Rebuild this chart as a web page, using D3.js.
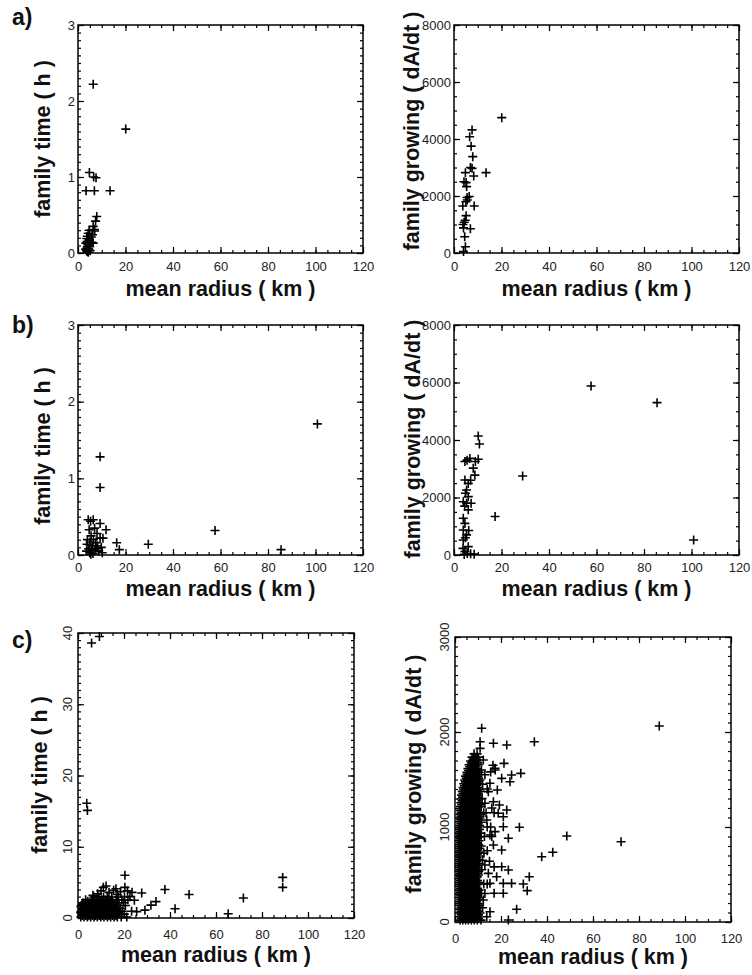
<!DOCTYPE html>
<html>
<head>
<meta charset="utf-8">
<script src="https://cdn.jsdelivr.net/npm/d3@7"></script>
<style>
  body { margin: 0; background: #ffffff; }
  svg { display: block; }
</style>
</head>
<body>
<script>

// ------------------ data (mean radius km, value) ---------------------------
var radiusTicks = [0, 20, 40, 60, 80, 100, 120];
var timeTicksAB = [0, 1, 2, 3];
var growTicksAB = [0, 2000, 4000, 6000, 8000];
var timeTicksC  = [0, 10, 20, 30, 40];
var growTicksC  = [0, 1000, 2000, 3000];

// a) family time
var aRadiusTime = [[6.4,2.22],[20.1,1.63],[4.8,1.06],[6.6,1.00],[7.6,0.99],[3.4,0.82],[6.9,0.82],[13.5,0.82],
  [7.9,0.48],[7.4,0.42],[6.4,0.35],[6.9,0.31],[7.0,0.29],[4.7,0.30],[4.3,0.26],[6.1,0.24],[3.9,0.22],[5.6,0.21],
  [3.7,0.19],[4.6,0.17],[6.4,0.13],[5.8,0.14],[3.3,0.13],[4.1,0.11],[3.9,0.08],[4.9,0.09],[3.7,0.06],[4.8,0.04],
  [4.4,0.06],[3.6,0.03],[5.1,0.03],[3.9,0.02],[4.3,0.01],[3.2,0.05],[4.8,0.13],[3.8,0.15]];

// a) family growing
var aRadiusGrow = [[20.1,4750],[7.6,4320],[6.6,4080],[7.2,3750],[7.9,3380],[7.6,2970],[6.9,3000],[8.3,2700],
  [13.5,2820],[4.8,2820],[5.1,2470],[5.3,2330],[4.2,2500],[6.4,1980],[5.6,1860],[5.0,1800],[8.5,1650],[3.7,1650],
  [5.1,1310],[4.3,1080],[4.7,1150],[6.9,850],[4.0,880],[3.8,1000],[4.5,570],[4.8,220],[4.0,50],[5.5,1950]];

// b) family time
var bRadiusTime = [[100.8,1.71],[9.3,1.28],[9.3,0.88],[57.7,0.32],[29.6,0.14],[85.5,0.07],[16.3,0.16],[17.4,0.07],
  [4.3,0.46],[6.4,0.46],[5.3,0.44],[9.3,0.41],[11.8,0.33],[4.7,0.33],[7.0,0.35],[8.0,0.28],[9.3,0.22],[10.5,0.22],
  [5.5,0.25],[4.0,0.20],[6.5,0.20],[7.5,0.16],[3.8,0.14],[5.0,0.13],[6.0,0.12],[8.2,0.12],[9.8,0.10],[4.5,0.08],
  [5.8,0.07],[7.2,0.06],[8.7,0.05],[10.2,0.03],[4.9,0.03],[6.3,0.02],[5.4,0.01],[3.6,0.05],[7.8,0.09],[5.1,0.17]];

// b) family growing
var bRadiusGrow = [[57.7,5880],[85.5,5300],[100.9,520],[28.9,2750],[17.3,1340],
  [10.2,4140],[10.7,3860],[4.6,3250],[6.7,3360],[10.2,3330],[5.5,3300],[9.0,3250],[8.1,3020],[8.8,2780],
  [4.6,2610],[6.0,2490],[7.0,2600],[5.3,2260],[6.0,2030],[4.8,2150],[3.9,1850],[5.3,1800],[7.2,1800],[6.0,1570],
  [4.5,1700],[3.9,1280],[4.6,1100],[3.9,870],[5.3,700],[6.2,850],[3.9,520],[4.8,600],[6.0,290],[4.6,120],
  [3.8,230],[5.6,50],[7.0,40],[8.5,30],[4.3,20]];

// c) family time : isolated points
var cTimeSparse = [[5.9,38.6],[9.3,39.5],[3.8,16.1],[4.1,15.1],[20.4,6.0],[89.0,5.7],[89.0,4.3],[71.9,2.8],
  [48.3,3.3],[37.8,4.0],[42.2,1.3],[65.3,0.6],[27.7,3.5],[33.9,2.3],[31.7,1.8],[29.1,1.1],[25.5,0.9],[12.2,4.5],
  [11.0,4.3],[20.4,4.3],[22.6,3.0],[8.5,3.4],[10.0,3.8],[13.5,3.6],[15.5,3.9],[17.0,3.3],[18.5,3.7],[21.5,3.8],
  [23.5,3.6],[16.5,4.1],[6.5,3.2],[24.5,2.5]];

// c) family time : dense cluster, rows of [time, radius, radius, ...]
var cTimeDenseRows = [
  [0.15, 1.2, 2.6, 4.1, 5.5, 7.0, 8.4, 9.9, 11.3, 12.8, 14.2, 15.7, 17.1, 18.8, 21.2],
  [0.55, 1.9, 3.3, 4.8, 6.2, 7.7, 9.1, 10.6, 12.0, 13.5, 14.9, 16.4, 17.9, 20.1],
  [0.95, 1.3, 2.7, 4.2, 5.6, 7.1, 8.5, 10.0, 11.4, 12.9, 14.3, 15.8, 17.4, 19.3, 23.3],
  [1.35, 2.0, 3.4, 4.9, 6.3, 7.8, 9.2, 10.7, 12.1, 13.6, 15.0, 16.6, 18.4],
  [1.75, 1.4, 2.8, 4.3, 5.7, 7.2, 8.6, 10.1, 11.5, 13.0, 14.4, 16.0, 17.8, 20.6],
  [2.15, 2.2, 3.7, 5.1, 6.6, 8.0, 9.5, 10.9, 12.4, 13.8, 15.4, 17.2, 19.8],
  [2.55, 3.3, 5.8, 7.4, 8.9, 10.3, 11.8, 13.2, 14.8, 16.6, 19.1, 21.7],
  [2.95, 6.9, 9.1, 11.1, 12.7, 14.6, 17.6, 20.2]];

// c) family time : second layer of the same cluster
var cTimeDenseRowsB = [
  [0.35, 1.9, 3.4, 4.8, 6.3, 7.7, 9.2, 10.6, 12.1, 13.5, 15.0, 16.5],
  [0.75, 1.2, 2.6, 4.0, 5.5, 6.9, 8.4, 9.8, 11.3, 12.7, 14.2, 15.6, 17.0],
  [1.15, 2.0, 3.5, 4.9, 6.4, 7.8, 9.3, 10.7, 12.2, 13.6, 15.1, 16.4],
  [1.55, 1.3, 2.7, 4.1, 5.6, 7.0, 8.5, 9.9, 11.4, 12.8, 14.3, 15.7],
  [1.95, 2.0, 3.5, 4.9, 6.4, 7.8, 9.3, 10.7, 12.2, 13.6, 15.0],
  [2.35, 4.3, 6.5, 8.1, 9.6, 11.1, 12.6, 14.1]];

// c) family growing : isolated points
var cGrowSparse = [[88.8,2063],[72.2,845],[48.6,905],[42.5,734],[37.7,687],[28.0,997],[34.5,1898],[32.3,477],
  [31.4,330],[29.7,400],[26.8,134],[11.6,2039],[10.9,1898],[16.7,1881],[22.5,1863],[10.9,1828],[12.3,1705],
  [17.4,1618],[21.3,1670],[24.6,1547],[28.6,1565],[20.3,1512],[23.9,1477],[15.2,1460],[18.4,1389],[14.5,1372],
  [16.7,1266],[19.3,1232],[22.5,1179],[21.0,1108],[18.8,1144],[13.8,1074],[21.0,1003],[17.4,951],[23.2,881],
  [15.2,916],[20.3,758],[16.7,811],[12.6,723],[20.3,582],[23.2,547],[14.5,512],[18.1,477],[15.2,407],[21.0,407],
  [24.6,407],[17.0,302],[21.0,302],[12.3,232],[15.2,108],[13.8,56],[23.2,21],
  [11.5,1600],[12.0,1450],[11.8,1300],[12.5,1150],[11.5,1050],[12.8,900],[11.4,800],[12.0,650],[11.6,550],
  [12.5,400],[11.3,300],[12.0,150],[13.0,1250],[13.5,1150],[14.0,1000],[13.0,600],[14.0,400],[13.0,300],
  [14.0,1400],[16.0,1200],[15.5,1000],[17.0,1150],[16.0,900],[14.0,750],[15.0,640],[17.0,580],[13.0,1550],
  [15.5,1580],[17.5,1600],[16.5,1650]];

// c) family growing : dense cluster, rows of [growing, radius, radius, ...]
var cGrowDenseRows = [
  [1770, 8.3, 9.6],
  [1735, 7.4, 8.9, 10.2],
  [1695, 6.8, 8.1, 9.5],
  [1655, 6.1, 7.5, 8.8, 10.1],
  [1615, 5.6, 7.0, 8.4, 9.7],
  [1575, 5.2, 6.5, 7.9, 9.3, 10.5],
  [1535, 4.6, 6.0, 7.4, 8.7, 10.0],
  [1495, 4.2, 5.6, 6.9, 8.3, 9.6, 10.8],
  [1455, 3.8, 5.1, 6.5, 7.8, 9.2, 10.4],
  [1415, 3.5, 4.8, 6.2, 7.5, 8.9, 10.1],
  [1375, 3.2, 4.4, 5.8, 7.1, 8.5, 9.8, 11.0],
  [1335, 2.9, 4.2, 5.5, 6.9, 8.2, 9.6],
  [1295, 2.7, 3.9, 5.2, 6.6, 7.9, 9.3, 10.6],
  [1255, 2.5, 3.7, 5.0, 6.3, 7.7, 9.0, 10.3],
  [1215, 2.4, 3.5, 4.8, 6.1, 7.4, 8.8, 10.1, 11.4],
  [1175, 2.3, 3.4, 4.6, 5.9, 7.2, 8.5, 9.8],
  [1135, 2.2, 3.3, 4.5, 5.8, 7.1, 8.4, 9.7, 11.0],
  [1095, 2.1, 3.2, 4.4, 5.7, 7.0, 8.3, 9.6, 10.8],
  [1055, 2.0, 3.1, 4.3, 5.6, 6.9, 8.2, 9.5],
  [1015, 2.0, 3.0, 4.2, 5.5, 6.8, 8.1, 9.4, 10.7],
  [975, 1.9, 3.0, 4.2, 5.4, 6.7, 8.0, 9.3, 10.6],
  [935, 1.9, 2.9, 4.1, 5.4, 6.7, 8.0, 9.3, 11.2],
  [895, 1.9, 2.9, 4.1, 5.3, 6.6, 7.9, 9.2, 10.5],
  [855, 1.8, 2.8, 4.0, 5.3, 6.6, 7.9, 9.2, 10.4],
  [815, 1.8, 2.8, 4.0, 5.2, 6.5, 7.8, 9.1, 10.3],
  [775, 1.8, 2.8, 4.0, 5.2, 6.5, 7.8, 9.1, 10.6],
  [735, 1.8, 2.7, 3.9, 5.2, 6.5, 7.8, 9.0, 10.2],
  [695, 1.8, 2.7, 3.9, 5.1, 6.4, 7.7, 9.0, 10.4],
  [655, 1.8, 2.7, 3.9, 5.1, 6.4, 7.7, 8.9, 10.1],
  [615, 1.8, 2.8, 4.0, 5.2, 6.4, 7.7, 8.9, 10.5],
  [575, 1.8, 2.8, 4.0, 5.2, 6.5, 7.7, 8.9, 10.0],
  [535, 1.8, 2.8, 4.0, 5.2, 6.5, 7.8, 9.0, 10.3],
  [495, 1.9, 2.9, 4.1, 5.3, 6.5, 7.8, 9.0, 10.2],
  [455, 1.9, 2.9, 4.1, 5.3, 6.6, 7.8, 9.1],
  [415, 1.9, 2.9, 4.1, 5.3, 6.6, 7.9, 9.1, 10.4],
  [375, 1.9, 3.0, 4.2, 5.4, 6.6, 7.9, 9.2],
  [335, 1.9, 3.0, 4.2, 5.4, 6.7, 7.9, 9.2, 10.5],
  [295, 2.0, 3.0, 4.2, 5.4, 6.7, 8.0, 9.3],
  [255, 2.0, 3.1, 4.3, 5.5, 6.7, 8.0, 9.3, 10.6],
  [215, 2.0, 3.1, 4.3, 5.5, 6.8, 8.1, 9.4],
  [175, 2.0, 3.1, 4.3, 5.5, 6.8, 8.1, 9.4, 10.7],
  [135, 2.0, 3.2, 4.4, 5.6, 6.9, 8.2, 9.5],
  [95, 2.1, 3.2, 4.4, 5.6, 6.9, 8.2, 9.5, 10.9],
  [55, 2.1, 3.3, 4.5, 5.7, 7.0, 8.3, 9.6],
  [20, 2.2, 3.4, 4.6, 5.8, 7.1, 8.4, 9.7, 11.3]];

// c) family growing : second layer of the same cluster (between the rows above)
var cGrowDenseRowsB = [
  [1715, 7.9, 9.3],
  [1675, 7.1, 8.5, 9.9],
  [1635, 6.4, 7.8, 9.1],
  [1595, 5.9, 7.3, 8.7, 10.0],
  [1555, 5.3, 6.7, 8.1, 9.5],
  [1515, 4.9, 6.3, 7.7, 9.0, 10.3],
  [1475, 4.5, 5.8, 7.2, 8.5, 9.9],
  [1435, 4.1, 5.4, 6.8, 8.1, 9.5],
  [1395, 3.8, 5.1, 6.5, 7.8, 9.2, 10.5],
  [1355, 3.5, 4.8, 6.1, 7.5, 8.8, 10.2],
  [1315, 3.3, 4.5, 5.9, 7.2, 8.6, 9.9],
  [1275, 3.1, 4.3, 5.6, 7.0, 8.3, 9.7],
  [1235, 2.9, 4.1, 5.4, 6.7, 8.1, 9.4, 10.7],
  [1195, 2.8, 4.0, 5.2, 6.5, 7.9, 9.1],
  [1155, 2.7, 3.9, 5.1, 6.4, 7.7, 9.0, 10.4],
  [1115, 2.6, 3.8, 5.0, 6.3, 7.6, 8.9, 10.2],
  [1075, 2.5, 3.7, 4.9, 6.2, 7.5, 8.8, 10.1],
  [1035, 2.5, 3.6, 4.8, 6.1, 7.4, 8.7, 10.0],
  [995, 2.4, 3.6, 4.8, 6.0, 7.3, 8.6, 9.9],
  [955, 2.4, 3.5, 4.7, 6.0, 7.3, 8.6, 9.9],
  [915, 2.3, 3.5, 4.7, 5.9, 7.2, 8.5, 9.8],
  [875, 2.3, 3.4, 4.6, 5.9, 7.2, 8.5, 9.8],
  [835, 2.3, 3.4, 4.6, 5.8, 7.1, 8.4, 9.7],
  [795, 2.3, 3.4, 4.6, 5.8, 7.1, 8.4, 9.7],
  [755, 2.2, 3.3, 4.5, 5.8, 7.1, 8.4, 9.6],
  [715, 2.2, 3.3, 4.5, 5.7, 7.0, 8.3, 9.6],
  [675, 2.2, 3.3, 4.5, 5.7, 7.0, 8.3, 9.5],
  [635, 2.2, 3.3, 4.5, 5.8, 7.0, 8.3, 9.5],
  [595, 2.2, 3.4, 4.6, 5.8, 7.1, 8.3, 9.5],
  [555, 2.2, 3.4, 4.6, 5.8, 7.1, 8.4, 9.6],
  [515, 2.3, 3.5, 4.7, 5.9, 7.1, 8.4, 9.6],
  [475, 2.3, 3.5, 4.7, 5.9, 7.2, 8.4, 9.7],
  [435, 2.3, 3.5, 4.7, 5.9, 7.2, 8.5, 9.8],
  [395, 2.4, 3.6, 4.8, 6.0, 7.2, 8.5, 9.8],
  [355, 2.4, 3.6, 4.8, 6.0, 7.3, 8.5, 9.8],
  [315, 2.4, 3.6, 4.8, 6.0, 7.3, 8.6, 9.9],
  [275, 2.5, 3.7, 4.9, 6.1, 7.3, 8.6, 9.9],
  [235, 2.5, 3.7, 4.9, 6.1, 7.4, 8.7, 10.0],
  [195, 2.5, 3.7, 4.9, 6.1, 7.4, 8.7, 10.0],
  [155, 2.6, 3.8, 5.0, 6.2, 7.5, 8.8, 10.1],
  [115, 2.6, 3.8, 5.0, 6.2, 7.5, 8.8, 10.1],
  [75, 2.7, 3.9, 5.1, 6.3, 7.6, 8.9, 10.2],
  [38, 2.7, 3.9, 5.1, 6.4, 7.6, 8.9, 10.3]];

// rows -> [radius, value] pairs
function unrow(rows) {
  return d3.merge(rows.map(r => r.slice(1).map(x => [x, r[0]])));
}

var tickFont = '"Liberation Sans", Arial, sans-serif';
var titleFont = '"Liberation Sans", Arial, sans-serif';

var svg = d3.select('body').append('svg').attr('width', 752).attr('height', 975);

//------------------ panel drawing ---------------------------------------------
function drawPanel(p) {

  var x = d3.scaleLinear().domain([0, 120]).range([p.left, p.right]);
  var y = d3.scaleLinear().domain([0, p.yTicks[p.yTicks.length - 1]]).range([p.bottom, p.top]);
  var g = svg.append('g');
  var fmt = d3.format('d');

  var minorX = d3.range(0, 121, 5);
  var minorY = d3.range(0, y.domain()[1] + p.yMinor / 2, p.yMinor);

  // minor ticks on four sides
  g.append('g').attr('transform', `translate(0,${p.bottom})`).call(d3.axisBottom(x).tickValues(minorX).tickSize(-3).tickFormat(''));
  g.append('g').attr('transform', `translate(0,${p.top})`).call(d3.axisTop(x).tickValues(minorX).tickSize(-3).tickFormat(''));
  g.append('g').attr('transform', `translate(${p.left},0)`).call(d3.axisLeft(y).tickValues(minorY).tickSize(-3).tickFormat(''));
  g.append('g').attr('transform', `translate(${p.right},0)`).call(d3.axisRight(y).tickValues(minorY).tickSize(-3).tickFormat(''));

  // major ticks
  g.append('g').attr('transform', `translate(0,${p.bottom})`)
   .call(d3.axisBottom(x).tickValues(radiusTicks).tickSize(-6).tickPadding(p.xPad).tickFormat(fmt));
  g.append('g').attr('transform', `translate(0,${p.top})`).call(d3.axisTop(x).tickValues(radiusTicks).tickSize(-6).tickFormat(''));
  var yl = g.append('g').attr('transform', `translate(${p.left},0)`)
            .call(d3.axisLeft(y).tickValues(p.yTicks).tickSize(-6).tickPadding(3).tickFormat(fmt));
  g.append('g').attr('transform', `translate(${p.right},0)`).call(d3.axisRight(y).tickValues(p.yTicks).tickSize(-6).tickFormat(''));

  g.selectAll('.domain').remove();
  g.selectAll('.tick line').attr('stroke', '#000').attr('stroke-width', 1.2);
  g.selectAll('.tick text').attr('fill', '#222').attr('font-size', 13).attr('font-family', tickFont);

  // rotated y labels for panel c
  if (p.rotY) {
    yl.selectAll('.tick text').remove();
    g.selectAll('.ylab').data(p.yTicks).enter().append('text')
     .attr('transform', d => `translate(${p.left - 6},${y(d)}) rotate(-90)`)
     .attr('text-anchor', 'middle').attr('fill', '#222')
     .attr('font-size', 13).attr('font-family', tickFont)
     .text(d => fmt(d));
  }

  // frame
  g.append('rect').attr('x', p.left).attr('y', p.top)
   .attr('width', p.right - p.left).attr('height', p.bottom - p.top)
   .attr('fill', 'none').attr('stroke', '#000').attr('stroke-width', 1.5);

  // crosses
  g.selectAll('.pt').data(p.data).enter().append('path')
   .attr('d', 'M-4.5,0H4.5M0,-4.5V4.5')
   .attr('transform', d => `translate(${x(d[0])},${y(d[1])})`)
   .attr('stroke', '#000').attr('stroke-width', 1.6).attr('fill', 'none');

  // axis titles
  g.append('text').attr('x', (p.left + p.right) / 2).attr('y', p.xTitleY)
   .attr('text-anchor', 'middle').attr('font-family', titleFont).attr('font-weight', 'bold')
   .attr('font-size', 21.5).attr('fill', '#111').text('mean radius ( km )');

  g.append('text').attr('transform', `translate(${p.yTitleX},${p.yTitleMid}) rotate(-90)`)
   .attr('text-anchor', 'middle').attr('font-family', titleFont).attr('font-weight', 'bold')
   .attr('font-size', 21.5).attr('fill', '#111').text(p.yTitle);

  if (p.tag) {
    svg.append('text').attr('x', 12).attr('y', p.tagY)
       .attr('font-family', titleFont).attr('font-weight', 'bold').attr('font-size', 23)
       .attr('fill', '#111').text(p.tag);
  }
}

//------------------ a) ---------------------------------------------
drawPanel({left: 78, right: 363, top: 25, bottom: 253, yTicks: timeTicksAB, yMinor: 0.1, xPad: 9,
  data: aRadiusTime, xTitleY: 296, yTitle: 'family time ( h )', yTitleX: 50, yTitleMid: 139, tag: 'a)', tagY: 25});
drawPanel({left: 454, right: 739, top: 25, bottom: 253, yTicks: growTicksAB, yMinor: 500, xPad: 9,
  data: aRadiusGrow, xTitleY: 296, yTitle: 'family growing ( dA/dt )', yTitleX: 419, yTitleMid: 131});

//------------------ b) ---------------------------------------------
drawPanel({left: 78, right: 363, top: 325, bottom: 555, yTicks: timeTicksAB, yMinor: 0.1, xPad: 8,
  data: bRadiusTime, xTitleY: 596, yTitle: 'family time ( h )', yTitleX: 50, yTitleMid: 446, tag: 'b)', tagY: 333});
drawPanel({left: 454, right: 739, top: 325, bottom: 555, yTicks: growTicksAB, yMinor: 500, xPad: 8,
  data: bRadiusGrow, xTitleY: 596, yTitle: 'family growing ( dA/dt )', yTitleX: 420, yTitleMid: 439});

//------------------ c) ---------------------------------------------
drawPanel({left: 78, right: 354, top: 633, bottom: 918, yTicks: timeTicksC, yMinor: 1, xPad: 12, rotY: true,
  data: cTimeSparse.concat(unrow(cTimeDenseRows), unrow(cTimeDenseRowsB)), xTitleY: 962, yTitle: 'family time ( h )',
  yTitleX: 47, yTitleMid: 775, tag: 'c)', tagY: 648});
drawPanel({left: 455, right: 731, top: 637, bottom: 922, yTicks: growTicksC, yMinor: 100, xPad: 12, rotY: true,
  data: cGrowSparse.concat(unrow(cGrowDenseRows), unrow(cGrowDenseRowsB)), xTitleY: 964, yTitle: 'family growing ( dA/dt )',
  yTitleX: 421, yTitleMid: 774});

</script>
</body>
</html>
